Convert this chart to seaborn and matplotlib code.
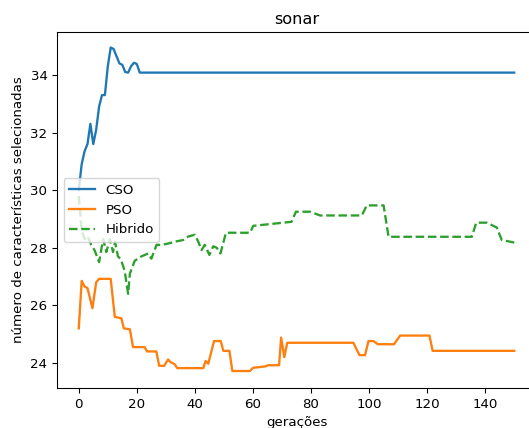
import matplotlib
matplotlib.use("Agg")
import matplotlib.pyplot as plt
import seaborn as sns
import pandas as pd

S = 0.965
plt.rcParams['font.family'] = ['DejaVu Sans']

cso_gen = [0, 1, 2, 3, 4, 5, 6, 7, 8, 9, 10, 11, 12, 13, 14, 15, 16, 17, 18, 19, 20, 21, 150]
cso_val = [30.0, 30.9, 31.35, 31.6, 32.3, 31.6, 32.1, 32.9, 33.3, 33.3, 34.3, 34.95, 34.9,
           34.65, 34.4, 34.35, 34.1, 34.08, 34.3, 34.42, 34.38, 34.08, 34.08]

pso_gen = [0, 1, 2, 3, 4.7, 6, 7, 11, 12.4, 14.7, 15.5, 17.6, 18.7, 22.7, 23.5, 26.7, 27.7,
           29.4, 30.8, 31.6, 33.1, 33.9, 42.9, 43.7, 44.6, 46.6, 48.9, 49.8, 51.9, 52.9, 59,
           60, 64.3, 65.2, 69, 69.7, 70.8, 71.8, 94.6, 96.7, 98.6, 99.8, 101.5, 103, 108.6,
           110.7, 120.8, 121.9, 150]
pso_val = [25.2, 26.85, 26.65, 26.6, 25.9, 26.8, 26.92, 26.92, 25.6, 25.55, 25.2, 25.17,
           24.55, 24.55, 24.4, 24.4, 23.9, 23.9, 24.12, 24.03, 23.95, 23.82, 23.82, 24.07,
           23.97, 24.76, 24.76, 24.42, 24.42, 23.72, 23.72, 23.83, 23.88, 23.92, 23.92, 24.88,
           24.2, 24.7, 24.7, 24.27, 24.27, 24.76, 24.76, 24.65, 24.65, 24.95, 24.95, 24.42,
           24.42]

hib_gen = [0, 1, 2, 3, 4.3, 5.5, 7, 8.4, 9.5, 10.7, 11.8, 12.5, 13.5, 14.5, 15.8, 17, 17.6,
           19.3, 21.6, 23.9, 25, 26.8, 28.5, 31, 33.1, 36, 37.7, 40, 41.2, 42.3, 43.4, 45,
           46.3, 47.5, 48.8, 50.7, 59, 60.1, 73.3, 74.8, 79.7, 83.1, 97.5, 99.2, 105, 106.7,
           135.4, 136.9, 140.6, 144, 145.7, 150]
hib_val = [29.8, 28.6, 28.3, 28.4, 28.1, 27.9, 27.5, 28.3, 27.85, 28.3, 27.85, 28.2, 27.7,
           27.6, 27.2, 26.4, 27.1, 27.55, 27.7, 27.8, 27.62, 28.1, 28.1, 28.15, 28.21, 28.27,
           28.39, 28.45, 28.2, 27.92, 28.1, 27.75, 28.05, 28.0, 27.8, 28.52, 28.52, 28.76,
           28.9, 29.25, 29.25, 29.12, 29.12, 29.47, 29.47, 28.38, 28.38, 28.87, 28.87, 28.7,
           28.27, 28.18]

title = "sonar"
xlabel = "gerações"
ylabel = "número de características selecionadas"

fig = plt.figure(figsize=(5.29, 4.28), dpi=100)
ax = fig.add_axes([57 / 529, 40 / 428, 479 / 529, 356 / 428])

lw = 1.5 * S * 1.15
sns.lineplot(x=cso_gen, y=cso_val, ax=ax, color='#1f77b4', lw=lw, label='CSO',
             sort=False, estimator=None)
sns.lineplot(x=pso_gen, y=pso_val, ax=ax, color='#ff7f0e', lw=lw, label='PSO',
             sort=False, estimator=None)
sns.lineplot(x=hib_gen, y=hib_val, ax=ax, color='#2ca02c', lw=lw, label='Hibrido',
             sort=False, estimator=None, linestyle='--')

ax.set_xlim(-7.5, 157.5)
ax.set_ylim(23.13, 35.49)
ax.set_xticks([0, 20, 40, 60, 80, 100, 120, 140])
ax.set_yticks([24, 26, 28, 30, 32, 34])
ax.tick_params(labelsize=10 * S, length=3.5 * S, width=0.8 * S)
for sp in ax.spines.values():
    sp.set_linewidth(0.8 * S)
ax.set_title(title, fontsize=12 * S, pad=6 * S)
ax.set_xlabel(xlabel, fontsize=10 * S, labelpad=4 * S)
ax.set_ylabel(ylabel, fontsize=10 * S, labelpad=4 * S)
ax.legend(loc='center left', fontsize=10 * S, handlelength=2 * S, framealpha=0.8)

fig.savefig("out.png", dpi=100)
